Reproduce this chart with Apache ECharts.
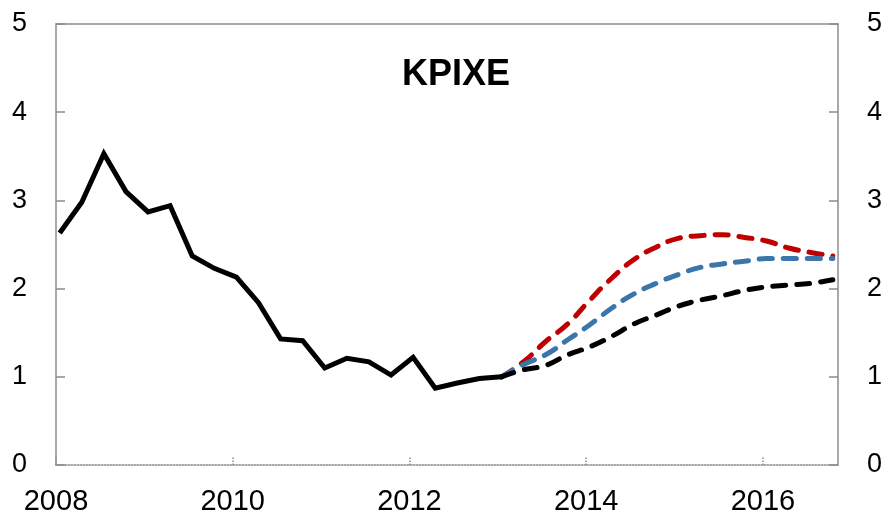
<!DOCTYPE html>
<html>
<head>
<meta charset="utf-8">
<script src="https://cdn.jsdelivr.net/npm/echarts@6/dist/echarts.min.js"></script>
<style>
  html, body { margin: 0; padding: 0; background: #fff; }
  #chart { width: 885px; height: 518px; }
</style>
</head>
<body>
<div id="chart"></div>
<script>
// kvartalsdata, historikk 2008K1 - 2013K1
var histStart = '2008Q1';
var histValues = [2.63, 2.98, 3.53, 3.10, 2.87, 2.94, 2.37, 2.23, 2.13, 1.84, 1.43, 1.41,
                  1.10, 1.21, 1.17, 1.02, 1.22, 0.87, 0.93, 0.98, 1.00];

// anslag 2013K1 - 2016K4
var fcStart = '2013Q1';
var fcRed = [1.00, 1.17, 1.40, 1.60, 1.87, 2.12, 2.33, 2.47, 2.57, 2.60, 2.61, 2.58, 2.54, 2.46, 2.41, 2.37];
var fcBlue = [1.00, 1.14, 1.25, 1.42, 1.59, 1.78, 1.94, 2.06, 2.16, 2.24, 2.28, 2.31, 2.34, 2.34, 2.34, 2.34];
var fcBlack = [1.00, 1.08, 1.13, 1.25, 1.34, 1.46, 1.60, 1.70, 1.80, 1.87, 1.92, 1.98, 2.02, 2.04, 2.06, 2.10];

var yTicks = [0, 1, 2, 3, 4, 5];
var xTickYears = [2008, 2010, 2012, 2014, 2016];

// punktene ligger midt i første måned i kvartalet
var midMonth = 1 / 24;

function toPoints(start, values) {
    var y = parseInt(start.slice(0, 4), 10);
    var q = parseInt(start.slice(5), 10);
    return values.map(function (v, i) {
        return [y + (q - 1 + i) / 4 + midMonth, v];
    });
}

var chart = echarts.init(document.getElementById('chart'));

var axisGrey = '#8c8c8c';
var font = 'Liberation Sans, Arial, sans-serif';

function yAxisCfg(pos) {
    return {
        type: 'value',
        position: pos,
        min: yTicks[0],
        max: yTicks[yTicks.length - 1],
        interval: 1,
        axisLine: { show: true, lineStyle: { color: axisGrey, width: 1.5 } },
        axisTick: { show: true, inside: true, length: 9, lineStyle: { color: axisGrey, width: 1.5 } },
        axisLabel: { color: '#000', fontSize: 27, fontFamily: font, margin: 29 },
        splitLine: { show: false }
    };
}

function dashed(name, data, color) {
    return {
        name: name,
        type: 'line',
        data: data,
        smooth: true,
        showSymbol: false,
        lineStyle: { color: color, width: 5, type: [13, 11], cap: 'round', join: 'round' }
    };
}

chart.setOption({
    animation: false,
    title: {
        text: 'KPIXE',
        left: 402,
        top: 57,
        padding: 0,
        textStyle: { fontSize: 36, fontWeight: 'bold', color: '#000', fontFamily: font }
    },
    grid: { left: 56, right: 47, top: 24, bottom: 53, containLabel: false, outerBoundsMode: 'none' },
    xAxis: [{
        type: 'value',
        min: xTickYears[0],
        max: 2016.85,
        interval: 2,
        axisLine: { show: true, onZero: false, lineStyle: { color: axisGrey, width: 1.5, type: 'dotted' } },
        axisTick: { show: true, inside: true, length: 9, lineStyle: { color: axisGrey, width: 1.5, type: 'dotted' } },
        axisLabel: {
            color: '#000', fontSize: 29, fontFamily: font, margin: 22,
            showMaxLabel: false,
            formatter: function (v) { return xTickYears.indexOf(v) >= 0 ? String(v) : ''; }
        },
        splitLine: { show: false }
    }, {
        type: 'value',
        position: 'top',
        min: xTickYears[0],
        max: 2016.85,
        axisLine: { show: true, onZero: false, lineStyle: { color: axisGrey, width: 1.5 } },
        axisTick: { show: false },
        axisLabel: { show: false },
        splitLine: { show: false }
    }],
    yAxis: [yAxisCfg('left'), yAxisCfg('right')],
    series: [
        dashed('Høy', toPoints(fcStart, fcRed), '#c00000'),
        dashed('Midt', toPoints(fcStart, fcBlue), '#3a76a9'),
        dashed('Lav', toPoints(fcStart, fcBlack), '#000'),
        {
            name: 'KPIXE',
            type: 'line',
            data: toPoints(histStart, histValues),
            showSymbol: false,
            lineStyle: { color: '#000', width: 5, join: 'miter' }
        }
    ]
});
</script>
</body>
</html>
